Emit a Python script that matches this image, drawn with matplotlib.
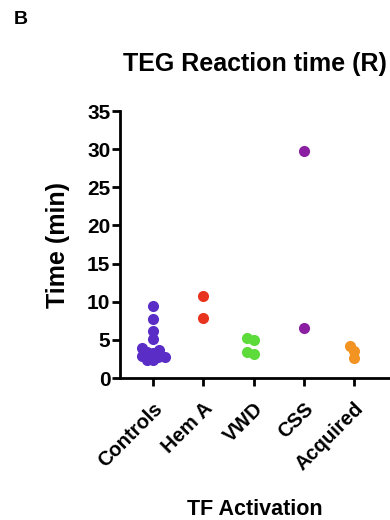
import matplotlib
matplotlib.use("Agg")
import matplotlib.pyplot as plt
import numpy as np

# values (minutes)
groups = ["Controls", "Hem A", "VWD", "CSS", "Acquired"]
controls = [9.5, 7.7, 6.2, 5.1, 4.0, 3.7, 3.4, 3.3, 2.9, 2.8, 2.8, 2.4, 2.3]
hem_a = [10.7, 7.9]
vwd = [5.0, 3.1, 5.3, 3.4]
css = [29.7, 6.5]
acquired = [4.2, 2.6, 3.5]
colors = ["#5a2ec6", "#e8341f", "#5cdb3a", "#8a1fa2", "#f29322"]
yticks = [0, 5, 10, 15, 20, 25, 30, 35]


def beeswarm(vals, diam, ppx, ppy):
    # simple greedy beeswarm, works in pixels, returns x offsets in data units
    order = np.argsort(vals)
    placed = []
    offs = np.zeros(len(vals))
    for i in order:
        y = vals[i] * ppy
        cands = [0.0]
        for px, py in placed:
            dy = abs(y - py)
            if dy < diam:
                dx = np.sqrt(diam ** 2 - dy ** 2)
                cands += [px - dx, px + dx]
        good = [c for c in cands
                if all((c - px) ** 2 + (y - py) ** 2 >= diam ** 2 - 1e-6 for px, py in placed)]
        best = min(good, key=lambda c: (abs(c), c))
        placed.append((best, y))
        offs[i] = best / ppx
    return offs


plt.rcParams['font.family'] = ['Liberation Sans', 'DejaVu Sans']
plt.rcParams['font.weight'] = 'bold'

fig = plt.figure(figsize=(3.9, 5.2), dpi=100)
ax = fig.add_axes([0.308, 0.273, 0.692, 0.5135])
ax.set_xlim(-0.66, 4.72)
ax.set_ylim(0, 35)

# pixels per data unit, for the swarm layout
ppx = fig.get_figwidth() * fig.dpi * 0.692 / (4.72 + 0.66)
ppy = fig.get_figheight() * fig.dpi * 0.5135 / 35

for i, vals in enumerate([controls, hem_a, vwd, css, acquired]):
    vals = np.array(vals)
    xo = beeswarm(vals, 6.5, ppx, ppy)
    ax.scatter(i + xo, vals, s=64, color=colors[i], linewidths=0, zorder=3,
               clip_on=False)

ax.set_yticks(yticks)
ax.set_yticklabels([str(t) for t in yticks], fontsize=15, fontweight='bold')
ax.set_xticks(range(len(groups)))
ax.set_xticklabels(groups, rotation=45, ha='right', rotation_mode='anchor',
                   fontsize=14.5, fontweight='bold')

for side in ['top', 'right']:
    ax.spines[side].set_visible(False)
for side in ['left', 'bottom']:
    ax.spines[side].set_linewidth(2)
ax.tick_params(width=2, length=6, direction='out')
ax.tick_params(axis='y', pad=1)
ax.tick_params(axis='x', pad=9)

ax.set_ylabel("Time (min)", fontsize=18, fontweight='bold', labelpad=12)
ax.set_xlabel("TF Activation", fontsize=15.5, fontweight='bold', labelpad=18)
ax.set_title("TEG Reaction time (R)", fontsize=18, fontweight='bold', pad=29)

fig.text(0.036, 0.962, "B", fontsize=14, fontweight='bold', va='center')

plt.savefig('out.png', dpi=100)
